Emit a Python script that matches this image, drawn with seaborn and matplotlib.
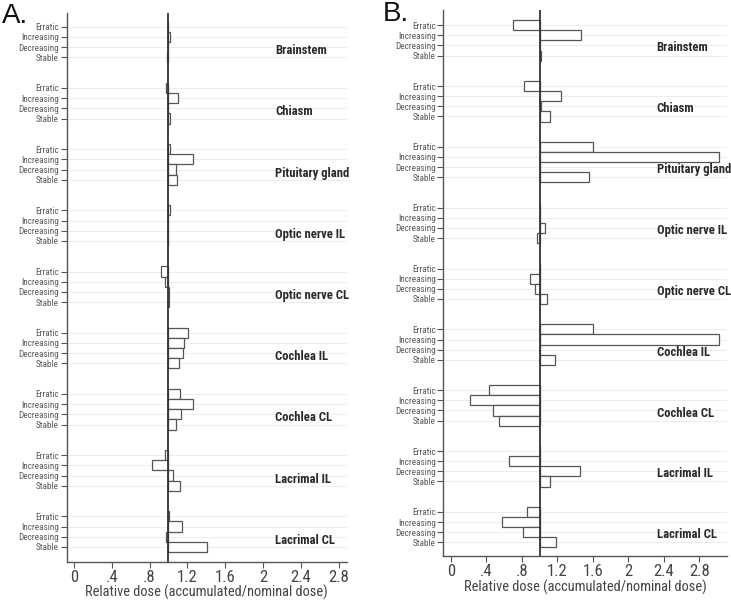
import numpy as np
import pandas as pd
import matplotlib
matplotlib.use("Agg")
import matplotlib.pyplot as plt
from matplotlib import font_manager as fm
import seaborn as sns

organs = ["Brainstem", "Chiasm", "Pituitary gland", "Optic nerve IL", "Optic nerve CL",
          "Cochlea IL", "Cochlea CL", "Lacrimal IL", "Lacrimal CL"]
trends = ["Erratic", "Increasing", "Decreasing", "Stable"]
x_ticks = [0, 0.4, 0.8, 1.2, 1.6, 2, 2.4, 2.8]
x_tick_labels = ["0", ".4", ".8", "1.2", "1.6", "2", "2.4", "2.8"]

# Panel A: relative dose per organ, in trend order (Erratic, Increasing, Decreasing, Stable)
dose_a = [
    [1.00, 1.015, 1.00, 0.99],
    [0.975, 1.10, 1.00, 1.02],
    [1.02, 1.255, 1.085, 1.095],
    [1.02, 1.00, 1.00, 1.00],
    [0.925, 0.96, 1.01, 1.01],
    [1.205, 1.17, 1.15, 1.11],
    [1.12, 1.26, 1.13, 1.085],
    [0.965, 0.83, 1.05, 1.12],
    [1.005, 1.14, 0.975, 1.405],
]
# Panel B
dose_b = [
    [0.70, 1.466, 1.00, 1.015],
    [0.82, 1.237, 1.02, 1.12],
    [1.60, 3.02, 1.00, 1.56],
    [1.005, 1.00, 1.06, 0.975],
    [1.005, 0.89, 0.95, 1.08],
    [1.60, 3.02, 1.00, 1.17],
    [0.43, 0.22, 0.47, 0.54],
    [1.005, 0.66, 1.45, 1.12],
    [0.86, 0.58, 0.81, 1.19],
]

sns.set_theme(style="white")


def pick_font():
    for fam in ["Liberation Sans Narrow", "Arial Narrow", "Roboto Condensed", "Open Sans Condensed"]:
        try:
            fm.findfont(fm.FontProperties(family=fam), fallback_to_default=False)
            return fam, "normal"
        except Exception:
            pass
    try:
        path = fm.findfont(fm.FontProperties(family="DejaVu Sans", stretch="condensed"),
                           fallback_to_default=False)
        if "ondensed" in path:
            return "DejaVu Sans", "condensed"
    except Exception:
        pass
    return "Roboto", "normal"


FAM, STRETCH = pick_font()
plt.rcParams["font.family"] = [FAM, "Liberation Sans", "DejaVu Sans"]
plt.rcParams["font.stretch"] = STRETCH


def make_df(dose):
    rows = []
    for g, organ in enumerate(organs):
        for t, trend in enumerate(trends):
            rows.append({"organ": organ, "trend": trend, "pos": g * 6 + t,
                         "value": dose[g][t], "delta": dose[g][t] - 1.0})
    return pd.DataFrame(rows)


fig = plt.figure(figsize=(7.31, 6.04), dpi=100)
renderer = fig.canvas.get_renderer()


def fit_size(text, target_px, weight="normal"):
    t = fig.text(0, 0, text, fontsize=10, fontweight=weight)
    w = t.get_window_extent(renderer=renderer).width
    t.remove()
    return 10 * target_px / w


organ_fs = min(fit_size("Pituitary gland", 74, "bold"), 10.5)
ytick_fs = min(fit_size("Decreasing", 40), 7.5)
xlabel_fs = min(fit_size("Relative dose (accumulated/nominal dose)", 242), 12.5)
xtick_fs = min(fit_size("2.8", 21), 12)

ax_a = fig.add_axes([0.0912, 0.070, 0.383, 0.909])
ax_b = fig.add_axes([0.6064, 0.0795, 0.3877, 0.904])


def draw(ax, dose, xlim, ylim, label_x, label_dy):
    df = make_df(dose)
    ax.grid(False)
    for p in df["pos"]:
        ax.axhline(p, color="#ededed", lw=0.7, zorder=0)
    sns.barplot(data=df, x="delta", y="pos", orient="y", native_scale=True,
                errorbar=None, width=1.0, color="white", saturation=1,
                edgecolor="#555555", linewidth=0.9, left=1.0, ax=ax, zorder=2)
    ax.axvline(1.0, color="#333333", lw=1.3, zorder=3)
    ax.set_xlim(*xlim)
    ax.set_ylim(*ylim)
    ax.set_yticks(df["pos"].tolist())
    ax.set_yticklabels(df["trend"].tolist(), fontsize=ytick_fs, color="#5a5a5a")
    ax.set_xticks(x_ticks)
    ax.set_xticklabels(x_tick_labels, fontsize=xtick_fs, color="#444444")
    ax.set_xlabel("Relative dose (accumulated/nominal dose)", fontsize=xlabel_fs,
                  color="#444444", labelpad=0)
    ax.set_ylabel("")
    ax.tick_params(axis="y", length=4, width=0.8, color="#555555", pad=1.5, left=True)
    ax.tick_params(axis="x", length=4, width=0.8, color="#555555", pad=2, bottom=True)
    for s in ["top", "right"]:
        ax.spines[s].set_visible(False)
    for s in ["left", "bottom"]:
        ax.spines[s].set_color("#555555")
        ax.spines[s].set_linewidth(1.0)
    for g, organ in enumerate(organs):
        ax.text(label_x, g * 6 + label_dy, organ, fontsize=organ_fs, fontweight="bold",
                color="#2a2a2a", va="center", ha="left", zorder=4)


draw(ax_a, dose_a, (-0.077, 2.886), (52.45, -1.38), 2.13, 2.35)
draw(ax_b, dose_b, (-0.087, 3.11), (52.35, -1.5), 2.32, 2.25)

fig.text(0.003, 0.962, "A.", fontsize=20, color="#111111", family=["Liberation Sans", "DejaVu Sans"])
fig.text(0.523, 0.966, "B.", fontsize=20, color="#111111", family=["Liberation Sans", "DejaVu Sans"])

fig.savefig("out.png", dpi=100)
